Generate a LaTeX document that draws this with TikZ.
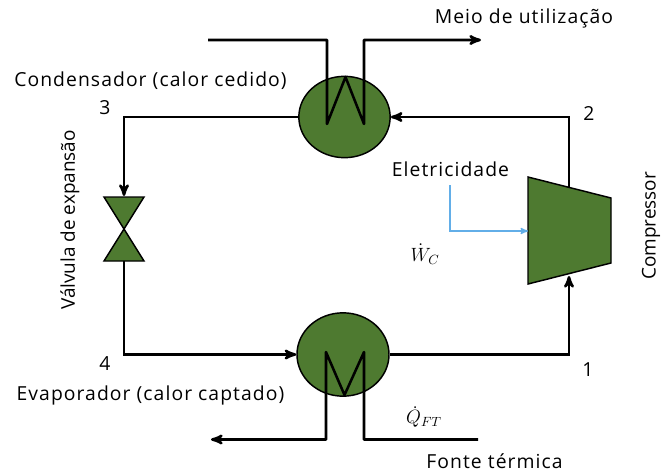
\documentclass[tikz,border=0pt]{standalone}
\usepackage{fontspec}
\setmainfont{Open Sans}
\newfontfamily\widefont[LetterSpace=5.5]{Open Sans}
\usetikzlibrary{arrows,shapes.geometric}
\definecolor{equipgreen}{HTML}{4E7A30}
\definecolor{wireblue}{HTML}{62AEE8}

\begin{document}
\begin{tikzpicture}[x=0.75pt,y=-0.75pt,>=stealth',main node/.style={ellipse,draw,fill=equipgreen,line width=1.1pt,inner sep=0pt},label node/.style={font=\widefont\fontsize{14.5}{17}\selectfont,inner sep=0pt},side node/.style={font=\fontsize{14.2}{17}\selectfont,inner sep=0pt,rotate=90},math node/.style={font=\fontsize{14.5}{17}\selectfont,inner sep=0pt},flow/.style={line width=1.9pt,line join=miter},coil/.style={line width=1.9pt,line join=round},equip/.style={draw,fill=equipgreen,line width=1.1pt,line join=miter}]
  \useasboundingbox (0,0) rectangle (662,472);

  \node[main node,minimum width=68.5pt,minimum height=61pt] (cond) at (344.5,117) {};
  \node[main node,minimum width=69pt,minimum height=62.5pt] (evap) at (343,354.5) {};

  % compressor
  \coordinate (cp1) at (528,177);
  \coordinate (cp2) at (611,198);
  \coordinate (cp3) at (611,263);
  \coordinate (cp4) at (528,284);
  \draw[equip] (cp1) -- (cp2) -- (cp3) -- (cp4) -- cycle;

  % valve
  \coordinate (vtl) at (104,197);
  \coordinate (vtr) at (144,197);
  \coordinate (vmid) at (124,229);
  \coordinate (vbl) at (104,261);
  \coordinate (vbr) at (144,261);
  \draw[equip] (vtl) -- (vtr) -- (vmid) -- cycle;
  \draw[equip] (vbl) -- (vbr) -- (vmid) -- cycle;

  % free ends and corners
  \coordinate (cmpout) at (569,187);
  \coordinate (cmpin) at (569,276);
  \coordinate (vin) at (124,196);
  \coordinate (vout) at (124,261);
  \coordinate (wcin) at (208,40);
  \coordinate (wc1) at (327,40);
  \coordinate (wc2) at (327,124);
  \coordinate (wc3) at (345.5,77);
  \coordinate (wc4) at (364,124);
  \coordinate (wc5) at (364,40);
  \coordinate (wcout) at (481,40);
  \coordinate (efin) at (478,439.5);
  \coordinate (ef1) at (364,439.5);
  \coordinate (ef2) at (364,352);
  \coordinate (ef3) at (344.5,395);
  \coordinate (ef4) at (326,352);
  \coordinate (ef5) at (326,439.5);
  \coordinate (efout) at (211,439.5);
  \coordinate (elstart) at (450,185);
  \coordinate (elend) at (528,231);

  \draw[flow,->] (cmpout) |- (cond);
  \draw[flow,->] (cond) -| (vin);
  \draw[flow,->] (vout) |- (evap);
  \draw[flow,->] (evap) -| (cmpin);
  \draw[coil,->] (wcin) -- (wc1) -- (wc2) -- (wc3) -- (wc4) -- (wc5) -- (wcout);
  \draw[coil,->] (efin) -- (ef1) -- (ef2) -- (ef3) -- (ef4) -- (ef5) -- (efout);
  \draw[wireblue,line width=1pt,->] (elstart) |- (elend);

  \node[label node] (meio) at (524,18) {Meio de utilização};
  \node[label node] (condtxt) at (150.5,81) {Condensador (calor cedido)};
  \node[label node] (evaptxt) at (150.5,395) {Evaporador (calor captado)};
  \node[label node] (fonte) at (494.5,461) {Fonte térmica};
  \node[label node] (eletr) at (450.5,169) {Eletricidade};
  \node[label node] (st3) at (105,108) {3};
  \node[label node] (st2) at (589,113) {2};
  \node[label node] (st4) at (105,364) {4};
  \node[label node] (st1) at (588,370) {1};
  \node[side node] (valvtxt) at (70,220) {Válvula de expansão};
  \node[side node] (comptxt) at (651,226) {Compressor};
  \node[math node] (wdot) at (425,254) {$\dot{W}_{C}$};
  \node[math node] (qdot) at (424,417) {$\dot{Q}_{FT}$};
\end{tikzpicture}
\end{document}
